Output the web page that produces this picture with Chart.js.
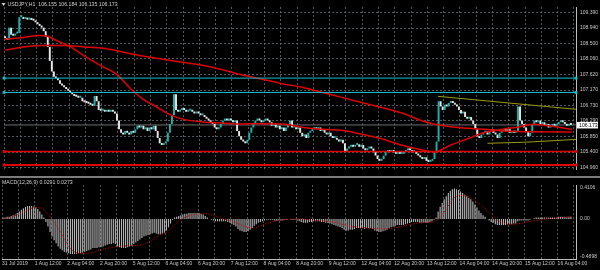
<!DOCTYPE html>
<html>
<head>
<meta charset="utf-8">
<script src="https://cdn.jsdelivr.net/npm/chart.js@4.4.1/dist/chart.umd.min.js"></script>
<style>
  html, body { margin: 0; padding: 0; background: #000; }
  #wrap { position: relative; width: 600px; height: 270px; background: #000; overflow: hidden; }
  #priceCanvas { position: absolute; left: 0; top: 0; }
  #macdCanvas { position: absolute; left: 0; top: 178px; }
  #sep { position: absolute; left: 0; top: 176px; width: 600px; height: 2px; background: #7c7c7c; }
</style>
</head>
<body>
<div id="wrap">
  <canvas id="priceCanvas" width="600" height="176"></canvas>
  <div id="sep"></div>
  <canvas id="macdCanvas" width="600" height="92"></canvas>
</div>
<script>
// USDJPY H1, 31 Jul 20:00 .. 16 Aug 10:00 (one close per hourly bar)
const firstOpen = 108.70;
const closes = [
  108.65,108.60,108.95,108.75,108.72,108.78,108.80,109.25,109.25,109.20,
  109.22,109.18,109.20,109.17,109.15,109.10,109.05,109.00,108.95,108.85,
  108.70,108.40,108.00,107.70,107.55,107.50,107.45,107.35,107.30,107.25,
  107.20,107.15,107.10,107.05,107.00,106.98,106.95,106.95,106.85,106.82,
  106.80,106.78,106.75,106.72,107.00,106.85,106.60,106.58,106.60,106.55,
  106.60,106.55,106.60,106.55,106.50,106.30,106.05,105.95,105.90,106.00,
  105.95,105.90,106.00,105.95,106.05,106.15,106.10,106.15,106.05,106.10,
  106.00,106.10,106.05,106.15,106.00,105.80,105.65,105.60,105.65,105.70,
  105.95,106.20,106.45,107.05,106.60,106.55,106.60,106.65,106.60,106.55,
  106.58,106.60,106.55,106.50,106.55,106.50,106.45,106.45,106.40,106.35,
  106.30,106.25,106.20,106.10,106.05,106.10,106.20,106.30,106.35,106.30,
  106.35,106.30,106.25,106.30,106.00,105.85,105.75,105.70,105.65,105.75,
  105.95,106.10,106.20,106.30,106.35,106.30,106.25,106.30,106.35,106.30,
  106.25,106.15,106.20,106.10,106.15,106.05,106.10,106.00,106.10,106.20,
  106.30,106.10,106.10,106.05,106.10,105.95,105.85,105.90,105.80,105.95,
  106.00,106.05,106.10,106.05,106.10,106.00,106.05,105.95,105.90,105.95,
  105.85,105.80,105.80,105.75,105.70,105.75,105.65,105.40,105.50,105.55,
  105.60,105.55,105.60,105.62,105.55,105.60,105.50,105.45,105.50,105.55,
  105.50,105.40,105.30,105.20,105.15,105.20,105.30,105.40,105.45,105.40,
  105.45,105.40,105.35,105.40,105.35,105.35,105.40,105.45,105.50,105.45,
  105.40,105.40,105.35,105.30,105.25,105.20,105.25,105.15,105.12,105.15,
  105.20,105.40,105.70,106.85,106.70,106.60,106.75,106.70,106.80,106.85,
  106.80,106.75,106.70,106.60,106.50,106.55,106.40,106.35,106.40,106.30,
  106.20,106.05,105.85,105.80,105.90,105.95,106.00,105.90,106.00,106.05,
  105.95,105.90,105.80,105.95,106.00,106.05,106.00,106.05,105.95,106.00,
  105.95,106.00,106.70,106.30,106.20,106.10,106.00,105.85,105.95,106.20,
  106.30,106.25,106.30,106.20,106.25,106.15,106.20,106.10,106.15,106.20,
  106.15,106.20,106.25,106.30,106.25,106.20,106.15,106.20,106.173
];

// moving averages, read at points along the lines (bar index, price)
const fastIdx = [0, 9.3, 16.6, 20.5, 25.4, 32.2, 40, 48.3, 54.6, 61.5, 67.8, 74.1, 81, 87.3, 97, 106.8, 116.6, 126.3, 136.1, 145.8, 155.6, 165.4, 175.1, 184.9, 194.6, 201, 210.7, 219, 227.3, 235.1, 243.4, 251.7, 259.5, 267.8, 278.5];
const fastVal = [108.62, 108.67, 108.73, 108.71, 108.58, 108.40, 108.10, 107.83, 107.63, 107.22, 106.91, 106.70, 106.47, 106.34, 106.26, 106.23, 106.20, 106.21, 106.20, 106.11, 106.05, 106.02, 105.91, 105.78, 105.60, 105.51, 105.40, 105.60, 105.78, 105.95, 106.04, 106.11, 106.19, 106.14, 106.05];
const slowIdx = [0, 9.3, 19, 29, 38.5, 48.3, 58, 67.8, 77.5, 87.3, 97, 106.8, 116.6, 126.3, 136.1, 145.8, 150.7, 165.4, 180, 194.6, 204.4, 210.7, 219, 227.3, 237, 248.3, 259.5, 278.5];
const slowVal = [108.31, 108.40, 108.44, 108.44, 108.40, 108.36, 108.25, 108.14, 108.05, 107.96, 107.88, 107.75, 107.60, 107.48, 107.35, 107.25, 107.18, 106.96, 106.74, 106.52, 106.30, 106.20, 106.12, 106.08, 106.04, 105.99, 105.98, 105.97];

// horizontal levels and channel lines
const cyanLevels = [107.51, 107.10];
const redLevels = [105.415, 105.03];
const chanUpIdx = [212.7, 280.5];
const chanUpVal = [106.99, 106.62];
const chanLowIdx = [237, 255.6, 280.5];
const chanLowVal = [105.65, 105.68, 105.76];

// MACD(12,26,9): main per bar, signal read at points
const macdMain = [
  0.02,0.02,0.03,0.03,0.04,0.05,0.06,0.08,0.10,0.12,
  0.14,0.16,0.17,0.17,0.17,0.16,0.15,0.13,0.10,0.06,
  0.02,-0.04,-0.10,-0.17,-0.23,-0.28,-0.32,-0.36,-0.39,-0.41,
  -0.43,-0.44,-0.45,-0.46,-0.46,-0.46,-0.46,-0.45,-0.45,-0.44,
  -0.43,-0.42,-0.41,-0.40,-0.38,-0.38,-0.38,-0.37,-0.37,-0.36,
  -0.35,-0.34,-0.33,-0.33,-0.32,-0.33,-0.36,-0.37,-0.38,-0.38,
  -0.38,-0.37,-0.36,-0.35,-0.33,-0.31,-0.29,-0.27,-0.25,-0.23,
  -0.22,-0.21,-0.20,-0.19,-0.18,-0.19,-0.20,-0.20,-0.19,-0.18,
  -0.15,-0.11,-0.06,-0.01,0.02,0.03,0.04,0.05,0.06,0.07,
  0.07,0.08,0.08,0.08,0.08,0.08,0.08,0.07,0.06,0.04,
  0.02,0.00,-0.01,-0.02,-0.03,-0.03,-0.03,-0.03,-0.03,-0.03,
  -0.04,-0.05,-0.07,-0.08,-0.10,-0.13,-0.15,-0.16,-0.17,-0.17,
  -0.16,-0.14,-0.12,-0.09,-0.07,-0.05,-0.04,-0.03,-0.02,-0.01,
  -0.01,-0.01,-0.01,-0.02,-0.02,-0.02,-0.02,-0.02,-0.01,-0.01,
  0.00,-0.01,-0.01,-0.01,-0.02,-0.03,-0.04,-0.05,-0.05,-0.05,
  -0.04,-0.04,-0.03,-0.03,-0.03,-0.03,-0.04,-0.04,-0.05,-0.05,
  -0.06,-0.07,-0.08,-0.09,-0.10,-0.11,-0.12,-0.14,-0.15,-0.15,
  -0.14,-0.14,-0.13,-0.12,-0.12,-0.12,-0.12,-0.13,-0.12,-0.12,
  -0.12,-0.13,-0.15,-0.16,-0.17,-0.17,-0.16,-0.15,-0.14,-0.12,
  -0.11,-0.10,-0.09,-0.08,-0.08,-0.08,-0.08,-0.07,-0.06,-0.05,
  -0.04,-0.04,-0.04,-0.04,-0.05,-0.05,-0.05,-0.05,-0.05,-0.04,
  -0.03,-0.01,0.02,0.10,0.16,0.21,0.26,0.30,0.34,0.37,
  0.39,0.40,0.39,0.38,0.36,0.34,0.32,0.30,0.28,0.26,
  0.23,0.19,0.15,0.11,0.08,0.05,0.03,0.00,-0.02,-0.04,
  -0.05,-0.07,-0.08,-0.08,-0.08,-0.08,-0.08,-0.07,-0.07,-0.07,
  -0.06,-0.06,-0.03,-0.02,-0.02,-0.02,-0.02,-0.02,-0.01,0.00,
  0.01,0.02,0.02,0.02,0.02,0.02,0.02,0.02,0.02,0.02,
  0.02,0.02,0.03,0.03,0.03,0.03,0.03,0.03,0.029
];
const signalIdx = [0, 4.4, 9.3, 15.6, 19, 22.4, 23.9, 28.8, 32.2, 37.1, 41.9, 48.3, 54.6, 61.5, 67.8, 72.7, 76.1, 81, 83.9, 87.3, 92.2, 97.1, 101.9, 106.8, 113.2, 120, 122.9, 127.8, 134.6, 145.8, 152.2, 161.9, 168.8, 175.1, 184.9, 191.2, 194.6, 199.5, 204.4, 209.3, 210.7, 214.1, 217.5, 220.5, 223.9, 227.3, 232.2, 237.1, 240, 243.4, 248.3, 253.2, 258, 262.9, 269.3, 278.5];
const signalVal = [0.0, 0.03, 0.08, 0.15, 0.14, 0.05, 0.0, -0.2, -0.36, -0.45, -0.45, -0.40, -0.37, -0.35, -0.34, -0.28, -0.22, -0.16, -0.08, 0.0, 0.05, 0.07, 0.06, 0.01, -0.04, -0.11, -0.12, -0.07, -0.02, 0.0, -0.02, -0.04, -0.09, -0.11, -0.13, -0.12, -0.10, -0.07, -0.05, -0.04, -0.04, 0.03, 0.15, 0.27, 0.31, 0.30, 0.22, 0.11, 0.03, -0.04, -0.07, -0.06, -0.03, -0.01, 0.01, 0.027];

// axis labels
const priceTicks = [109.39, 108.94, 108.50, 108.06, 107.62, 107.17, 106.73, 106.29, 105.85, 105.40, 104.96];
const macdTicks = [0.4106, 0, -0.4898];
const macdTickLabels = ['0.4106', '0.00', '-0.4898'];
const timeLabels = ['31 Jul 2019', '1 Aug 12:00', '2 Aug 04:00', '2 Aug 20:00', '5 Aug 12:00', '6 Aug 04:00',
  '6 Aug 20:00', '7 Aug 12:00', '8 Aug 04:00', '8 Aug 20:00', '9 Aug 12:00', '12 Aug 04:00',
  '12 Aug 20:00', '13 Aug 12:00', '14 Aug 04:00', '14 Aug 20:00', '15 Aug 12:00', '16 Aug 04:00'];
const titleText = 'USDJPY,H1  106.155 106.184 106.135 106.173';
const macdText = 'MACD(12,26,9) 0.0291 0.0273';

const FONT = 'Liberation Sans';
const TEXT = '#c8c8c8';
const GRID = 'rgba(105,115,125,0.75)';
const X_MIN = -0.5, X_MAX = 280.5;
const xTicks = [];
for (let k = 0; k < timeLabels.length * 2; k++) xTicks.push(k * 8 - 0.5);

const lastClose = closes[closes.length - 1];
const candleData = closes.map((c, i) => ({ x: i, y: [i ? closes[i - 1] : firstOpen, c] }));
const candleColors = candleData.map(d => d.y[1] >= d.y[0] ? '#1fb3ad' : '#e6e6e6');
const pairs = (xs, ys) => xs.map((x, i) => ({ x: x, y: ys[i] }));
const flat = v => [{ x: X_MIN, y: v }, { x: X_MAX, y: v }];

function levelSet(v, color, width) {
    return {
        type: 'line', data: flat(v), borderColor: color, borderWidth: width,
        pointRadius: 2, pointStyle: 'rect', pointBackgroundColor: color, pointBorderWidth: 0,
        clip: false, order: 1
    };
}

function xScale(showLabels) {
    return {
        type: 'linear', min: X_MIN, max: X_MAX, offset: false,
        afterBuildTicks: s => { s.ticks = xTicks.map(v => ({ value: v })); },
        afterFit: s => { s.height = showLabels ? 11 : 0; },
        grid: { color: GRID, lineWidth: 1, drawTicks: false, offset: false },
        border: { display: showLabels, color: '#bdbdbd', dash: [2, 2] },
        ticks: {
            display: showLabels, autoSkip: false, maxRotation: 0, align: 'start', padding: 2,
            color: TEXT, font: { family: FONT, size: 5 },
            callback: (v, i) => (i % 2 === 0 ? timeLabels[i / 2] : '')
        }
    };
}

// 1. Price panel
const priceOverlay = {
    id: 'priceOverlay',
    afterDraw(chart) {
        const ctx = chart.ctx;
        ctx.save();
        ctx.fillStyle = '#cfcfcf';
        ctx.beginPath();
        ctx.moveTo(1.5, 3); ctx.lineTo(5.5, 3); ctx.lineTo(3.5, 6); ctx.closePath();
        ctx.fill();
        ctx.font = '5.2px "' + FONT + '"';
        ctx.textBaseline = 'middle';
        ctx.textAlign = 'left';
        ctx.fillText(titleText, 7.5, 4.8);
        // bid price box on the axis
        const y = chart.scales.y.getPixelForValue(lastClose);
        ctx.fillStyle = '#ffffff';
        ctx.fillRect(577, y - 3, 21, 6.5);
        ctx.fillStyle = '#000000';
        ctx.fillText(lastClose.toFixed(3), 579, y + 0.3);
        ctx.restore();
    }
};

new Chart(document.getElementById('priceCanvas'), {
    type: 'bar',
    data: {
        datasets: [
            levelSet(cyanLevels[0], '#14bfcc', 1),
            levelSet(cyanLevels[1], '#14bfcc', 1),
            levelSet(redLevels[0], '#e00000', 1.5),
            levelSet(redLevels[1], '#e00000', 2),
            { type: 'line', data: flat(lastClose), borderColor: '#6e6e6e', borderWidth: 1, pointRadius: 0, order: 6 },
            { type: 'line', data: pairs(chanUpIdx, chanUpVal), borderColor: '#9a9a10', borderWidth: 1, pointRadius: 0, order: 2 },
            { type: 'line', data: pairs(chanLowIdx, chanLowVal), borderColor: '#9a9a10', borderWidth: 1, pointRadius: 0, order: 2 },
            { type: 'line', data: pairs(slowIdx, slowVal), borderColor: '#e00000', borderWidth: 1.5, pointRadius: 0, cubicInterpolationMode: 'monotone', order: 3 },
            { type: 'line', data: pairs(fastIdx, fastVal), borderColor: '#e00000', borderWidth: 1.5, pointRadius: 0, cubicInterpolationMode: 'monotone', order: 3 },
            { type: 'bar', data: candleData, backgroundColor: candleColors, borderWidth: 0, minBarLength: 2,
              categoryPercentage: 1, barPercentage: 0.95, order: 5 }
        ]
    },
    options: {
        responsive: false, animation: false, devicePixelRatio: 1,
        layout: { padding: 0 },
        plugins: { legend: { display: false }, tooltip: { enabled: false } },
        scales: {
            x: xScale(false),
            y: {
                position: 'right', min: 104.916, max: 109.54,
                afterBuildTicks: s => { s.ticks = priceTicks.map(v => ({ value: v })); },
                afterFit: s => { s.width = 24; },
                grid: { color: GRID, drawTicks: false },
                border: { display: true, color: '#bdbdbd', dash: [2, 2] },
                ticks: { color: TEXT, padding: 4, font: { family: FONT, size: 5 }, callback: v => v.toFixed(3) }
            }
        }
    },
    plugins: [priceOverlay]
});

// 2. MACD panel
const macdOverlay = {
    id: 'macdOverlay',
    afterDraw(chart) {
        const ctx = chart.ctx;
        ctx.save();
        ctx.fillStyle = '#cfcfcf';
        ctx.font = '5.2px "' + FONT + '"';
        ctx.textBaseline = 'middle';
        ctx.fillText(macdText, 2, 4.5);
        ctx.restore();
    }
};

new Chart(document.getElementById('macdCanvas'), {
    type: 'bar',
    data: {
        datasets: [
            { type: 'line', data: pairs(signalIdx, signalVal), borderColor: '#d40000', borderWidth: 1,
              borderDash: [1, 1.5], pointRadius: 0, cubicInterpolationMode: 'monotone', order: 1 },
            { type: 'bar', data: macdMain.map((v, i) => ({ x: i, y: v })), backgroundColor: '#b4b4b4',
              borderWidth: 0, categoryPercentage: 1, barPercentage: 0.55, order: 2 }
        ]
    },
    options: {
        responsive: false, animation: false, devicePixelRatio: 1,
        layout: { padding: 0 },
        plugins: { legend: { display: false }, tooltip: { enabled: false } },
        scales: {
            x: xScale(true),
            y: {
                position: 'right', min: -0.5258, max: 0.4466,
                afterBuildTicks: s => { s.ticks = macdTicks.map(v => ({ value: v })); },
                afterFit: s => { s.width = 24; },
                grid: { display: false, drawTicks: false },
                border: { display: true, color: '#bdbdbd' },
                ticks: { color: TEXT, padding: 4, font: { family: FONT, size: 5 },
                         callback: (v, i) => macdTickLabels[i] }
            }
        }
    },
    plugins: [macdOverlay]
});
</script>
</body>
</html>
